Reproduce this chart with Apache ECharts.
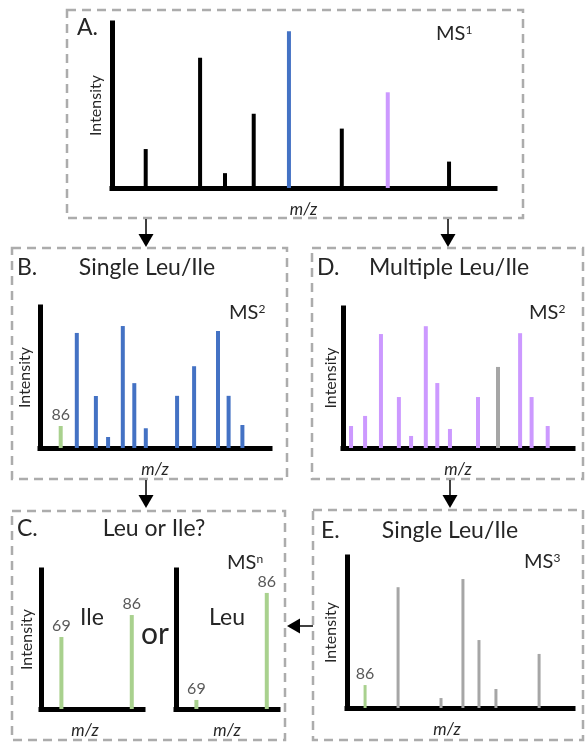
<!DOCTYPE html>
<html>
<head>
<meta charset="utf-8">
<script src="https://cdn.jsdelivr.net/npm/echarts@6/dist/echarts.min.js"></script>
<style>
  html, body { margin: 0; padding: 0; background: #fff; }
  #main { width: 585px; height: 742px; }
</style>
</head>
<body>
<div id="main"></div>
<script>
// panel A - MS1 survey scan (m/z and intensity in arbitrary units 0-100)
var aOtherMz = [8.8, 23, 29.5, 37, 60, 88];
var aOtherInt = [23.6, 79, 9, 45, 36, 16];
var aSingleMz = [46.2];
var aSingleInt = [95];
var aMultiMz = [72];
var aMultiInt = [58];

// panel B - MS2 of single Leu/Ile precursor
var bFragMz = [16, 24.3, 29.6, 36, 41, 46, 59.6, 67, 77.4, 82, 88];
var bFragInt = [81.6, 36.9, 7.8, 86.5, 46, 14, 37, 58, 83, 37, 16.3];
var bImmMz = [9];
var bImmInt = [15.6];

// panel D - MS2 of multiple Leu/Ile precursor
var dFragMz = [3.5, 9.6, 16.5, 24.3, 29.6, 36, 41, 46.5, 58.7, 77, 82, 89];
var dFragInt = [15.7, 22.9, 81.4, 36.4, 8.6, 87, 46.4, 13.6, 36.4, 82, 36.4, 15.7];
var dSelMz = [67.4];
var dSelInt = [57.9];

// panel E - MS3
var eFragMz = [22.6, 41.6, 51.3, 58.4, 65.9, 85];
var eFragInt = [80, 6.6, 85.4, 45, 12.6, 35.8];
var eImmMz = [8];
var eImmInt = [15.2];

// panel C - MSn, Ile vs Leu
var cMz = [20, 89];
var cLabels = ['69', '86'];
var ileInt = [51.8, 67.6];
var leuInt = [6.5, 83.5];

var BLUE = '#4472c4';
var PURPLE = '#cc99ff';
var GREEN = '#a9d18e';
var GRAY = '#a6a6a6';
var INK = '#262626';
var FONT = 'Lato';

var chart = echarts.init(document.getElementById('main'));

function pairs(xs, ys) {
  return xs.map(function (x, i) { return [x, ys[i]]; });
}

function xAx(idx, showName, nameOffset) {
  return {
    gridIndex: idx, type: 'value', min: 0, max: 100,
    name: showName ? 'm/z' : '', nameLocation: 'middle', nameGap: 13,
    nameTextStyle: { fontFamily: FONT, fontStyle: 'italic', fontSize: 17, color: INK, padding: [0, nameOffset || 0, 0, 0] },
    axisLine: { show: true, lineStyle: { color: '#000', width: 5, cap: 'square' } },
    axisTick: { show: false }, axisLabel: { show: false }, splitLine: { show: false }
  };
}
function yAx(idx, showName, gap) {
  return {
    gridIndex: idx, type: 'value', min: 0, max: 100,
    name: showName ? 'Intensity' : '', nameLocation: 'middle', nameGap: gap || 8, nameRotate: 90,
    nameTextStyle: { fontFamily: FONT, fontSize: 16, color: INK },
    axisLine: { show: true, lineStyle: { color: '#000', width: 5, cap: 'square' } },
    axisTick: { show: false }, axisLabel: { show: false }, splitLine: { show: false }
  };
}

function bars(idx, xs, ys, color, width, labels) {
  var s = {
    type: 'bar', xAxisIndex: idx, yAxisIndex: idx,
    barWidth: width || 4, barGap: '-100%', itemStyle: { color: color },
    data: pairs(xs, ys), silent: true, animation: false
  };
  if (labels) {
    s.label = {
      show: true, position: 'top', distance: 3,
      fontFamily: FONT, fontSize: 16, color: '#595959',
      formatter: function (p) { return labels[p.dataIndex]; }
    };
  }
  return s;
}

function box(x, y, w, h) {
  return {
    type: 'rect', shape: { x: x, y: y, width: w, height: h },
    style: { fill: null, stroke: '#acacac', lineWidth: 2.5, lineDash: [9, 6] }, silent: true
  };
}
function downArrow(x, y1, y2) {
  return [
    { type: 'line', shape: { x1: x, y1: y1, x2: x, y2: y2 - 12 }, style: { stroke: '#000', lineWidth: 1.5 } },
    { type: 'polygon', shape: { points: [[x - 7.5, y2 - 13], [x + 7.5, y2 - 13], [x, y2]] }, style: { fill: '#000' } }
  ];
}
function txt(x, y, text, size, extra) {
  var st = { text: text, x: x, y: y, fontFamily: FONT, fontSize: size, fill: INK, textVerticalAlign: 'middle', textAlign: 'left' };
  for (var k in extra) st[k] = extra[k];
  return { type: 'text', style: st, silent: true };
}
function msLabel(x, y, sup) {
  return {
    type: 'text', silent: true,
    style: {
      x: x, y: y, text: 'MS{s|' + sup + '}', fontFamily: FONT, fontSize: 20, fill: INK,
      textVerticalAlign: 'middle',
      rich: { s: { fontSize: 12, fontFamily: FONT, fill: INK, verticalAlign: 'top', padding: [0, 0, 8, 0] } }
    }
  };
}

var graphics = [
  box(67, 10, 456, 208),
  box(12, 248, 275, 231),
  box(312, 248, 271, 231),
  box(12, 511, 273, 229),
  box(313, 510, 270, 230),
  txt(77, 28, 'A.', 23),
  msLabel(436, 34, '1'),
  txt(17, 268, 'B.', 23),
  txt(147, 268, 'Single Leu/Ile', 23, { textAlign: 'center' }),
  msLabel(229, 313, '2'),
  txt(317, 268, 'D.', 23),
  txt(449, 268, 'Multiple Leu/Ile', 23, { textAlign: 'center' }),
  msLabel(529, 313, '2'),
  txt(17, 529, 'C.', 23),
  txt(154, 529, 'Leu or Ile?', 23, { textAlign: 'center' }),
  msLabel(227, 563, 'n'),
  txt(92, 618, 'Ile', 23, { textAlign: 'center' }),
  txt(227, 618, 'Leu', 23, { textAlign: 'center' }),
  txt(155, 634, 'or', 30, { textAlign: 'center' }),
  txt(321, 531, 'E.', 23),
  txt(450, 531, 'Single Leu/Ile', 23, { textAlign: 'center' }),
  msLabel(524, 562, '3')
];
graphics = graphics
  .concat(downArrow(146, 219, 247))
  .concat(downArrow(448, 219, 247))
  .concat(downArrow(146, 480, 508))
  .concat(downArrow(450, 480, 508))
  .concat([
    { type: 'line', shape: { x1: 313, y1: 626, x2: 299, y2: 626 }, style: { stroke: '#000', lineWidth: 1.5 } },
    { type: 'polygon', shape: { points: [[300, 618.5], [300, 633.5], [287, 626]] }, style: { fill: '#000' } }
  ]);

var option = {
  animation: false,
  backgroundColor: '#fff',
  grid: [
    { left: 112, top: 23, width: 383, height: 165 },
    { left: 40, top: 307, width: 230, height: 141 },
    { left: 343, top: 308, width: 230, height: 140 },
    { left: 41, top: 570, width: 102, height: 139 },
    { left: 176, top: 570, width: 102, height: 139 },
    { left: 347, top: 557, width: 226, height: 151 }
  ],
  xAxis: [xAx(0, true), xAx(1, true), xAx(2, true), xAx(3, true, 14), xAx(4, true), xAx(5, true, 26)],
  yAxis: [yAx(0, true, 8), yAx(1, true, 7), yAx(2, true, 4), yAx(3, true, 6), yAx(4, false), yAx(5, true, 8)],
  series: [
    bars(0, aOtherMz, aOtherInt, '#000', 4),
    bars(0, aSingleMz, aSingleInt, BLUE, 4),
    bars(0, aMultiMz, aMultiInt, PURPLE, 4),
    bars(1, bFragMz, bFragInt, BLUE, 4),
    bars(1, bImmMz, bImmInt, GREEN, 4, ['86']),
    bars(2, dFragMz, dFragInt, PURPLE, 4),
    bars(2, dSelMz, dSelInt, GRAY, 4),
    bars(3, cMz, ileInt, GREEN, 4, cLabels),
    bars(4, cMz, leuInt, GREEN, 4, cLabels),
    bars(5, eFragMz, eFragInt, GRAY, 3),
    bars(5, eImmMz, eImmInt, GREEN, 3, ['86'])
  ],
  graphic: { elements: graphics }
};

chart.setOption(option);
</script>
</body>
</html>
